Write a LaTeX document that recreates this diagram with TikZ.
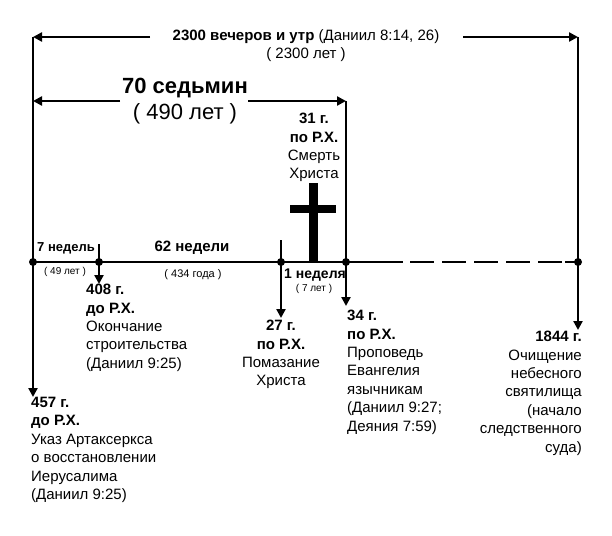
\documentclass[tikz,border=0pt]{standalone}
\usepackage{fontspec}
\setmainfont{Liberation Sans}
\usetikzlibrary{arrows.meta}
\begin{document}
\begin{tikzpicture}[x=1pt,y=-1pt,
  ln/.style={line width=2.6pt},
  arr/.style={ln,-{Triangle[length=9pt,width=9pt]}},
  dot/.style={circle,fill,inner sep=0pt,minimum size=8pt},
  txt/.style={inner sep=0pt,font=\fontsize{15}{18.4}\selectfont},
  small/.style={inner sep=0pt,font=\fontsize{10}{12}\selectfont}]
\useasboundingbox (0,0) rectangle (612,535);
% timeline points
\node[dot] (p457) at (33,262) {};
\node[dot] (p408) at (99,262) {};
\node[dot] (p27) at (281,262) {};
\node[dot] (p34) at (346,262) {};
\node[dot] (p1844) at (578,262) {};
\coordinate (solidEnd) at (403,262);
\coordinate (dashA) at (410,262);
\coordinate (dashB) at (562,262);
\coordinate (solidB) at (565,262);
\draw[ln] (p457.center) -- (solidEnd);
\draw[ln,dash pattern=on 24pt off 8pt] (dashA) -- (dashB);
\draw[ln] (solidB) -- (p1844.center);
% top arrow
\coordinate (tL) at (33,37); \coordinate (tR) at (578,37);
\coordinate (tA) at (150,37); \coordinate (tB) at (463,37);
\draw[arr] (tA) -- (tL);
\draw[arr] (tB) -- (tR);
\node[txt] (t2300) at (306,37) {\textbf{2300 вечеров и утр} (Даниил 8:14, 26)};
\node[txt] (t2300b) at (306,55) {( 2300 лет )};
% 70 weeks
\coordinate (sL) at (33,101); \coordinate (sR) at (346,101);
\coordinate (sA) at (120,101); \coordinate (sB) at (248,101);
\draw[arr] (sA) -- (sL);
\draw[arr] (sB) -- (sR);
\node[inner sep=0pt,font=\fontsize{22}{24}\selectfont\bfseries] (s70) at (185,88) {70 седьмин};
\node[inner sep=0pt,font=\fontsize{22}{24}\selectfont] (s490) at (185,114) {( 490 лет )};
% verticals
\coordinate (e457) at (33,397);
\coordinate (e408) at (99,284);
\coordinate (e27) at (281,318);
\coordinate (e34) at (346,306);
\coordinate (e1844) at (578,330);
\coordinate (tk408) at (99,244);
\coordinate (tk27) at (281,240);
\draw[ln] (tL) -- (p457.center);
\draw[arr] (p457.center) -- (e457);
\draw[ln] (tR) -- (p1844.center);
\draw[arr] (p1844.center) -- (e1844);
\draw[ln] (sR) -- (p34.center);
\draw[arr] (p34.center) -- (e34);
\draw[ln] (tk408) -- (p408.center);
\draw[arr] (p408.center) -- (e408);
\draw[ln] (tk27) -- (p27.center);
\draw[arr] (p27.center) -- (e27);
% cross
\fill (309,183) rectangle (318,262);
\fill (290,205) rectangle (336,213);
\node[txt,align=center,anchor=north] (n31) at (314,113) {\textbf{31 г.}\\\textbf{по Р.Х.}\\Смерть\\Христа};
% segment labels
\node[txt,font=\fontsize{13}{15}\selectfont\bfseries] (w7) at (66,248) {7 недель};
\node[txt,font=\fontsize{15}{18}\selectfont\bfseries] (w62) at (192,248) {62 недели};
\node[small] (y49) at (65,272) {( 49 лет )};
\node[small,font=\fontsize{11}{13}\selectfont] (y434) at (193,275) {( 434 года )};
\node[txt,font=\fontsize{14}{15}\selectfont\bfseries,anchor=west] (w1) at (284,275) {1 неделя};
\node[small] (y7) at (314,289) {( 7 лет )};
% event labels
\node[txt,align=left,anchor=north west] (l408) at (86,284) {\textbf{408 г.}\\\textbf{до Р.Х.}\\Окончание\\строительства\\(Даниил 9:25)};
\node[txt,align=center,anchor=north] (l27) at (281,320) {\textbf{27 г.}\\\textbf{по Р.Х.}\\Помазание\\Христа};
\node[txt,align=left,anchor=north west] (l34) at (347,310) {\textbf{34 г.}\\\textbf{по Р.Х.}\\Проповедь\\Евангелия\\язычникам\\(Даниил 9:27;\\Деяния 7:59)};
\node[txt,align=right,anchor=north east] (l1844) at (582,331) {\textbf{1844 г.}\\Очищение\\небесного\\святилища\\(начало\\следственного\\суда)};
\node[txt,align=left,anchor=north west] (l457) at (31,397) {\textbf{457 г.}\\\textbf{до Р.Х.}\\Указ Артаксеркса\\о восстановлении\\Иерусалима\\(Даниил 9:25)};
\end{tikzpicture}
\end{document}
